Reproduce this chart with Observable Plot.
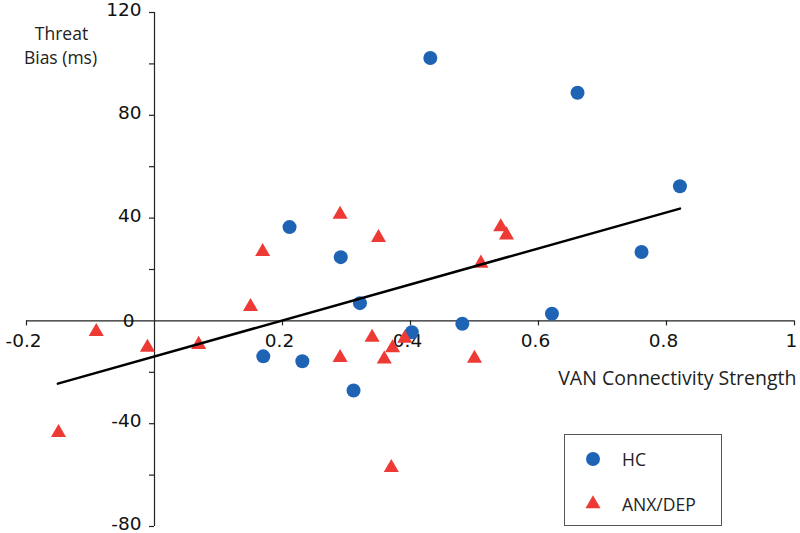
<!DOCTYPE html>
<html><head><meta charset="utf-8">
<script src="https://cdn.jsdelivr.net/npm/d3@7"></script>
<script src="https://cdn.jsdelivr.net/npm/@observablehq/plot@0.6"></script>
<style>
body{margin:0;background:#fff;}
#wrap{position:relative;width:800px;height:533px;overflow:hidden;}
#legend{position:absolute;left:564px;top:434px;}
</style></head><body><div id="wrap"></div>
<script>
// HC (blue circles)
const hcX = [0.211, 0.291, 0.321, 0.170, 0.231, 0.311, 0.402, 0.481, 0.431, 0.661, 0.821, 0.761, 0.621];
const hcY = [36.5, 24.8, 6.9, -13.8, -15.7, -27.1, -4.4, -1.1, 102.3, 88.8, 52.4, 26.8, 2.8];
// ANX/DEP (red triangles)
const anxX = [-0.150, -0.091, -0.011, 0.069, 0.150, 0.169, 0.290, 0.350, 0.340, 0.290, 0.359, 0.372, 0.391, 0.500, 0.370, 0.541, 0.550, 0.510];
const anxY = [-43.5, -4.2, -10.3, -9.2, 5.5, 26.9, 41.4, 32.4, -6.4, -14.3, -14.9, -10.5, -6.8, -14.6, -57.1, 36.6, 33.4, 22.4];
// fitted trend line (endpoints)
const fitX = [-0.151, 0.821];
const fitY = [-24.4, 43.7];
// ticks
const xTicks = [-0.2, 0.2, 0.4, 0.6, 0.8, 1];
const xTickLabels = ["-0.2", "0.2", "0.4", "0.6", "0.8", "1"];
const yTicks = [-80, -40, 40, 80, 120];
const yTickLabels = ["-80", "-40", "40", "80", "120"];
const yMinorTicks = [-60, -20, 20, 60, 100];
const seriesNames = ["HC", "ANX/DEP"];
const colors = ["#1f63b5", "#ee3a35"];

const hc = hcX.map((x, i) => ({x, y: hcY[i]}));
const anx = anxX.map((x, i) => ({x, y: anxY[i]}));
const fit = fitX.map((x, i) => ({x, y: fitY[i]}));
const axisColor = "#222";
const tickFont = "DejaVu Sans";
const titleFont = "Open Sans";

const chart = Plot.plot({
  width: 800, height: 533,
  marginLeft: 26, marginRight: 6, marginTop: 12, marginBottom: 7,
  x: {domain: [-0.2, 1], axis: null},
  y: {domain: [-80, 120], axis: null},
  style: {fontFamily: tickFont, fontSize: "18px", background: "white", color: "#111"},
  marks: [
    Plot.ruleY([0], {stroke: axisColor, strokeWidth: 1.2}),
    Plot.ruleX([0], {stroke: axisColor, strokeWidth: 1.2}),
    Plot.ruleX(xTicks, {x: d => d, y1: 0, y2: 0, insetBottom: -5, stroke: axisColor, strokeWidth: 1.2}),
    Plot.ruleY(yTicks.concat(yMinorTicks), {y: d => d, x1: 0, x2: 0, insetLeft: -5, stroke: axisColor, strokeWidth: 1.2}),
    Plot.text(xTicks, {x: d => d, y: 0, text: (d, i) => xTickLabels[i], dy: 20, dx: -3, lineAnchor: "middle", fill: "#111", fontFamily: tickFont, fontSize: 18.5}),
    Plot.text(yTicks, {x: 0, y: d => d, text: (d, i) => yTickLabels[i], textAnchor: "end", dx: -13, dy: -2.5, lineAnchor: "middle", fill: "#111", fontFamily: tickFont, fontSize: 18.5}),
    Plot.text([0], {x: 0, y: 0, text: () => "0", textAnchor: "end", dx: -20, lineAnchor: "middle", fill: "#111", fontFamily: tickFont, fontSize: 18.5}),
    Plot.dot(hc, {x: "x", y: "y", r: 7, symbol: "circle", fill: colors[0], stroke: "none"}),
    Plot.dot(anx, {x: "x", y: "y", r: 5.6, symbol: "triangle", fill: colors[1], stroke: "none"}),
    Plot.line(fit, {x: "x", y: "y", stroke: "black", strokeWidth: 2.5}),
    Plot.text(["Threat"], {frameAnchor: "top-left", textAnchor: "middle", lineAnchor: "bottom", dx: 35, dy: 27, fontFamily: titleFont, fontSize: 17.5, fill: "#222"}),
    Plot.text(["Bias (ms)"], {frameAnchor: "top-left", textAnchor: "middle", lineAnchor: "bottom", dx: 34, dy: 51, fontFamily: titleFont, fontSize: 17.5, fill: "#222"}),
    Plot.text(["VAN Connectivity Strength"], {frameAnchor: "top-right", textAnchor: "end", lineAnchor: "bottom", dx: 2, dy: 372, fontFamily: titleFont, fontSize: 19.5, fill: "#222"})
  ]
});
document.getElementById("wrap").appendChild(chart);

// legend box
const leg = d3.select("#wrap").append("svg").attr("id", "legend").attr("width", 160).attr("height", 94);
leg.append("rect").attr("x", 0.5).attr("y", 0.5).attr("width", 157).attr("height", 91)
  .attr("fill", "white").attr("stroke", "#555").attr("stroke-width", 1);
const items = [{sym: d3.symbolCircle, size: Math.PI * 49, cy: 25}, {sym: d3.symbolTriangle, size: Math.PI * 5.6 * 5.6, cy: 70}];
items.forEach((it, i) => {
  leg.append("path").attr("d", d3.symbol(it.sym, it.size)()).attr("transform", `translate(29,${it.cy})`).attr("fill", colors[i]);
  leg.append("text").attr("x", 58).attr("y", it.cy + 7).text(seriesNames[i])
    .attr("font-family", titleFont).attr("font-size", 17.5).attr("fill", "#222");
});
</script>
</body></html>
